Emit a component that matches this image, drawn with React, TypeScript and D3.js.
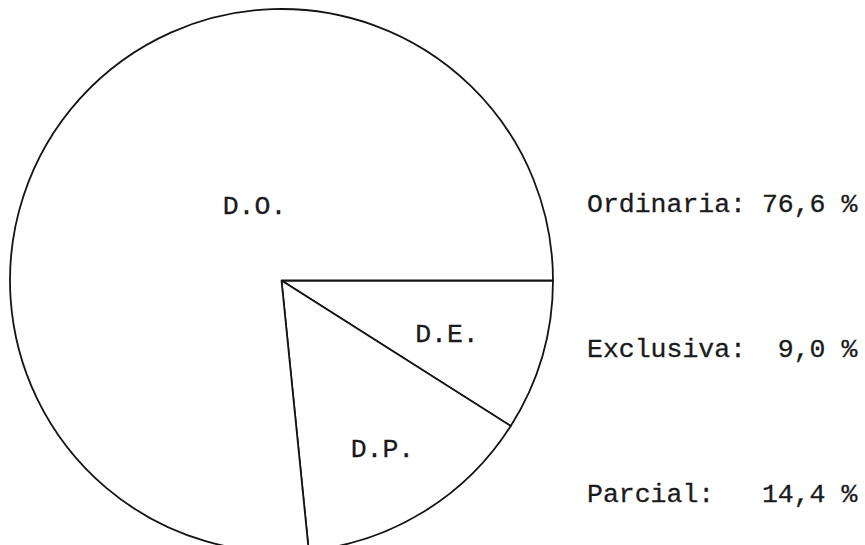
import React from "react";
import * as d3 from "d3";

// categories in drawing order (clockwise from 3 o'clock)
const sliceKeys = ["D.E.", "D.P.", "D.O."];
const sliceValues = [9.0, 14.4, 76.6];

// legend on the right
const legendNames = ["Ordinaria:", "Exclusiva:", "Parcial:"];
const legendValues = ["76,6 %", "9,0 %", "14,4 %"];

// label placement inside the slices: [radius, angle in degrees]
const labelSpots = [
  [174, 108],
  [196, 149],
  [79, 340],
];

const W = 865;
const H = 545;
const cx = 281.5;
const cy = 280.5;
const R = 271.5;
const font = "'Liberation Mono', 'Courier New', monospace";
const fontSize = 26.5;

export default function App() {
  const pie = d3
    .pie<number>()
    .sort(null)
    .value((d) => d)
    .startAngle(Math.PI / 2)
    .endAngle(Math.PI / 2 + 2 * Math.PI);
  const arcs = pie(sliceValues);
  const arc = d3.arc<d3.PieArcDatum<number>>().innerRadius(0).outerRadius(R);

  const legendY = d3.scalePoint<string>().domain(legendNames).range([212, 502]);
  const colWidth = fontSize * 0.6;

  return (
    <svg
      width={W}
      height={H}
      style={{ position: "absolute", left: 0, top: 0, background: "#fff" }}
    >
      <g transform={`translate(${cx},${cy})`}>
        {arcs.map((a, i) => (
          <path
            key={sliceKeys[i]}
            d={arc(a) || ""}
            fill="#fff"
            stroke="#141414"
            strokeWidth={1.8}
            strokeLinejoin="round"
          />
        ))}
        {sliceKeys.map((k, i) => {
          const [r, deg] = labelSpots[i];
          const t = (deg * Math.PI) / 180;
          return (
            <text
              key={k}
              x={r * Math.sin(t)}
              y={-r * Math.cos(t) + 8}
              textAnchor="middle"
              fontFamily={font}
              fontSize={fontSize}
              fill="#1a1a1a"
              stroke="#1a1a1a"
              strokeWidth={0.3}
            >
              {k}
            </text>
          );
        })}
      </g>
      {legendNames.map((n, i) => {
        const line = n.padEnd(11, " ") + legendValues[i].padStart(6, " ");
        return (
          <text
            key={n}
            x={587}
            y={legendY(n)}
            fontFamily={font}
            fontSize={fontSize}
            fill="#1a1a1a"
            stroke="#1a1a1a"
            strokeWidth={0.3}
            style={{ whiteSpace: "pre" }}
            textLength={colWidth * line.length}
          >
            {line}
          </text>
        );
      })}
    </svg>
  );
}
